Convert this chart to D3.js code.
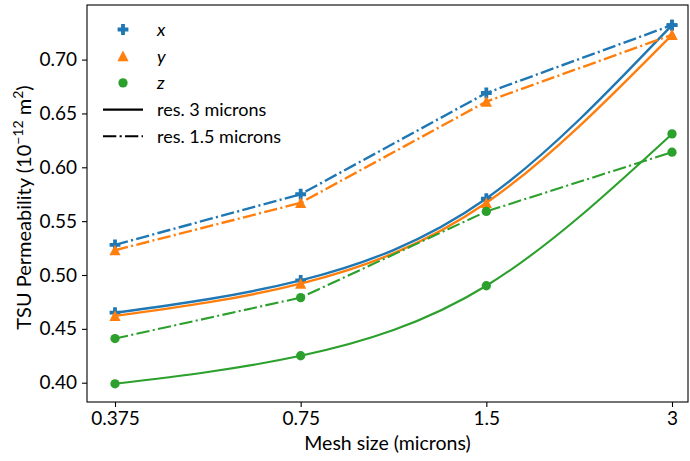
<!DOCTYPE html>
<html>
<head>
<meta charset="utf-8">
<script src="https://cdn.jsdelivr.net/npm/d3@7"></script>
<style>
  body { margin: 0; background: #fff; }
  svg { font-family: Lato, "DejaVu Sans", sans-serif; }
</style>
</head>
<body>
<div id="chart"></div>
<script>
// mesh sizes (microns) and tick labels
var meshSizes = [0.375, 0.75, 1.5, 3];
var meshLabels = ["0.375", "0.75", "1.5", "3"];
var yTicks = [0.40, 0.45, 0.50, 0.55, 0.60, 0.65, 0.70];

// permeability, res. 3 microns (solid)
var xRes3 = [0.465, 0.495, 0.571, 0.732];
var yRes3 = [0.462, 0.492, 0.567, 0.723];
var zRes3 = [0.399, 0.425, 0.490, 0.631];

// permeability, res. 1.5 microns (dash-dot)
var xRes15 = [0.528, 0.575, 0.669, 0.732];
var yRes15 = [0.523, 0.567, 0.661, 0.723];
var zRes15 = [0.441, 0.479, 0.559, 0.614];

var svgWidth = 690;
var svgHeight = 461;

var box = { left: 87, right: 688, top: 5, bottom: 402 };

var svg = d3.select("#chart")
    .append("svg")
    .attr("width", svgWidth)
    .attr("height", svgHeight);

var xScale = d3.scaleLog()
    .domain([0.375, 3])
    .range([115, 672]);

var yScale = d3.scaleLinear()
    .domain([0.40, 0.70])
    .range([382.7, 59.6]);

var colors = { x: "#1f77b4", y: "#ff7f0e", z: "#2ca02c" };
var dashDot = "13.3,3.3,2.1,3.3";

var series = [
    { name: "x", vals: xRes3, dash: null, sym: "plus" },
    { name: "x", vals: xRes15, dash: dashDot, sym: "plus" },
    { name: "y", vals: yRes3, dash: null, sym: "tri" },
    { name: "y", vals: yRes15, dash: dashDot, sym: "tri" },
    { name: "z", vals: zRes3, dash: null, sym: "circle" },
    { name: "z", vals: zRes15, dash: dashDot, sym: "circle" }
];

function markerPath(sym) {
    if (sym == "plus") {
        // filled plus like matplotlib "P"
        var a = 5.4, b = 1.9;
        return "M" + -b + "," + -a + "H" + b + "V" + -b + "H" + a + "V" + b + "H" + b +
            "V" + a + "H" + -b + "V" + b + "H" + -a + "V" + -b + "H" + -b + "Z";
    }
    if (sym == "tri") {
        return "M0,-5.6L5.6,5.1L-5.6,5.1Z";
    }
    return d3.symbol().type(d3.symbolCircle).size(68)();
}

var chartGroup = svg.append("g");

series.forEach(function(s) {
    var pts = meshSizes.map(function(m, i) { return [m, s.vals[i]]; });
    var line = d3.line()
        .x(d => xScale(d[0]))
        .y(d => yScale(d[1]))
        .curve(s.dash ? d3.curveLinear : d3.curveNatural);

    chartGroup.append("path")
        .datum(pts)
        .attr("d", line)
        .attr("fill", "none")
        .attr("stroke", colors[s.name])
        .attr("stroke-width", s.name == "z" ? 2.1 : 2.4)
        .attr("stroke-dasharray", s.dash);

    chartGroup.selectAll(null)
        .data(pts)
        .enter()
        .append("path")
        .attr("transform", d => `translate(${xScale(d[0])},${yScale(d[1])})`)
        .attr("d", markerPath(s.sym))
        .attr("fill", colors[s.name]);
});

// axes frame
svg.append("rect")
    .attr("x", box.left)
    .attr("y", box.top)
    .attr("width", box.right - box.left)
    .attr("height", box.bottom - box.top)
    .attr("fill", "none")
    .attr("stroke", "#000")
    .attr("stroke-width", 1.1);

var bottomAxis = d3.axisBottom(xScale)
    .tickValues(meshSizes)
    .tickFormat((d, i) => meshLabels[i])
    .tickSize(5)
    .tickPadding(5);

var leftAxis = d3.axisLeft(yScale)
    .tickValues(yTicks)
    .tickFormat(d3.format(".2f"))
    .tickSize(5)
    .tickPadding(5);

var gx = svg.append("g")
    .attr("transform", `translate(0, ${box.bottom})`)
    .call(bottomAxis);

var gy = svg.append("g")
    .attr("transform", `translate(${box.left}, 0)`)
    .call(leftAxis);

[gx, gy].forEach(function(g) {
    g.select(".domain").remove();
    g.selectAll("line").attr("stroke", "#000").attr("stroke-width", 1.1);
    g.selectAll("text")
        .attr("fill", "#000")
        .style("font-family", "Lato, sans-serif")
        .style("font-size", "19px");
});

// axis titles
svg.append("text")
    .attr("x", (box.left + box.right) / 2)
    .attr("y", 450)
    .attr("text-anchor", "middle")
    .style("font-size", "19.5px")
    .text("Mesh size (microns)");

var ylab = svg.append("text")
    .attr("transform", `translate(31, ${(box.top + box.bottom) / 2 + 4}) rotate(-90)`)
    .attr("text-anchor", "middle")
    .style("font-size", "20px");
ylab.append("tspan").text("TSU Permeability (10");
ylab.append("tspan").attr("dy", -8).style("font-size", "14px").text("\u221212");
ylab.append("tspan").attr("dy", 8).text(" m");
ylab.append("tspan").attr("dy", -8).style("font-size", "14px").text("2");
ylab.append("tspan").attr("dy", 8).text(")");

// legend
var legendRows = [
    { label: "x", sym: "plus", color: colors.x, italic: true },
    { label: "y", sym: "tri", color: colors.y, italic: true },
    { label: "z", sym: "circle", color: colors.z, italic: true },
    { label: "res. 3 microns", dash: "none" },
    { label: "res. 1.5 microns", dash: dashDot }
];

var legend = svg.append("g");
legendRows.forEach(function(r, i) {
    var ly = 29.5 + i * 26.7;
    if (r.sym) {
        legend.append("path")
            .attr("transform", `translate(123, ${ly})`)
            .attr("d", markerPath(r.sym))
            .attr("fill", r.color);
    } else {
        legend.append("line")
            .attr("x1", 103).attr("x2", 143)
            .attr("y1", ly).attr("y2", ly)
            .attr("stroke", "#000")
            .attr("stroke-width", 2.1)
            .attr("stroke-dasharray", r.dash == "none" ? null : r.dash);
    }
    legend.append("text")
        .attr("x", 157)
        .attr("y", ly + 6.5)
        .style("font-size", "18px")
        .style("font-style", r.italic ? "italic" : "normal")
        .text(r.label);
});
</script>
</body>
</html>
